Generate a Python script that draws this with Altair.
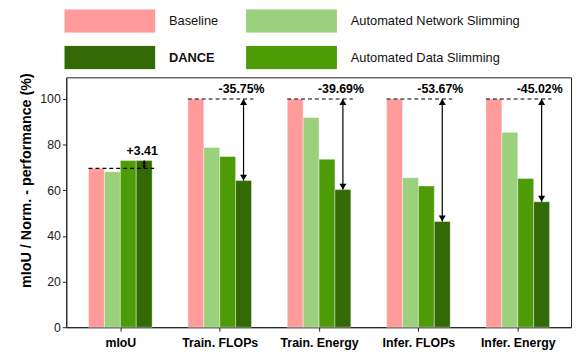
import altair as alt
import pandas as pd

categories = ["mIoU", "Train. FLOPs", "Train. Energy", "Infer. FLOPs", "Infer. Energy"]
methods = ["Baseline", "Automated Network Slimming", "Automated Data Slimming", "DANCE"]
baseline = [69.6, 100, 100, 100, 100]
network_slimming = [68.1, 78.8, 91.9, 65.5, 85.4]
data_slimming = [73.0, 74.8, 73.6, 61.9, 65.2]
dance = [73.01, 64.25, 60.31, 46.33, 54.98]
change_labels = ["+3.41", "-35.75%", "-39.69%", "-53.67%", "-45.02%"]
legend_order = ["Baseline", "Automated Network Slimming", "DANCE", "Automated Data Slimming"]
legend_colors = ["#FF9B9B", "#9BD07C", "#336A05", "#4E9B08"]
y_ticks = [0, 20, 40, 60, 80, 100]

FONT = "Liberation Sans"
BW = 0.16  # bar width in group units

series = [baseline, network_slimming, data_slimming, dance]
rows = []
for g, cat in enumerate(categories):
    for k, m in enumerate(methods):
        x0 = g + (k - 2) * BW
        rows.append({"cat": cat, "method": m, "x0": x0, "x1": x0 + BW, "value": series[k][g]})
bars_df = pd.DataFrame(rows)

ann = []
for g, cat in enumerate(categories):
    b, d = baseline[g], dance[g]
    ann.append({
        "cat": cat, "base": b, "lo": min(b, d), "hi": max(b, d),
        "xd0": g - 0.32, "xd1": g + 0.34, "xa": g + 0.24, "xt": g + 0.22,
        "label": change_labels[g], "head": 14 if g == 0 else 50,
    })
ann_df = pd.DataFrame(ann)

xscale = alt.Scale(domain=[-0.544, 4.536], nice=False, zero=False)
yscale = alt.Scale(domain=[0, 109.5], nice=False)

label_expr = "[" + ",".join("'" + c + "'" for c in categories) + "][round(datum.value)]"

bars = alt.Chart(bars_df).mark_rect(stroke="white", strokeWidth=0.4).encode(
    x=alt.X("x0:Q", scale=xscale, axis=alt.Axis(
        values=list(range(len(categories))), labelExpr=label_expr, title=None,
        grid=False, labelFontWeight="bold", labelFontSize=12.5, labelColor="black",
        tickSize=4, labelPadding=6, domainColor="#222", tickColor="#222")),
    x2="x1:Q",
    y=alt.Y("value:Q", scale=yscale, axis=alt.Axis(
        values=y_ticks, grid=False, title="mIoU / Norm. - performance (%)",
        titleFontWeight="bold", titleFontSize=14.5, titleColor="black", titleY=104,
        titlePadding=6, labelFontSize=12.5, labelColor="#222", tickSize=4,
        domainColor="#222", tickColor="#222")),
    y2=alt.datum(0),
    color=alt.Color("method:N", scale=alt.Scale(domain=legend_order, range=legend_colors),
        legend=alt.Legend(
            orient="none", legendX=-2, legendY=-69, columns=2, direction="horizontal",
            title=None,
            symbolType="M-1,-0.26H1V0.26H-1Z", symbolSize=8464, clipHeight=24,
            symbolStrokeWidth=0, symbolOpacity=1, labelOffset=14,
            columnPadding=28, rowPadding=13, labelFontSize=13, labelFont=FONT,
            labelColor="#111", labelLimit=400,
            labelFontWeight=alt.ExprRef("datum.label == 'DANCE' ? 'bold' : 'normal'"))),
)

dash = alt.Chart(ann_df).mark_rule(color="black", strokeDash=[4, 3], strokeWidth=1.2).encode(
    x="xd0:Q", x2="xd1:Q", y="base:Q")

shaft = alt.Chart(ann_df).mark_rule(color="black", strokeWidth=1.2).encode(
    x="xa:Q", y="lo:Q", y2="hi:Q")

head_up = alt.Chart(ann_df).mark_point(shape="M0,0L-1,1.7L1,1.7Z", filled=True, color="black",
                                       opacity=1, strokeWidth=0).encode(
    x="xa:Q", y="hi:Q", size=alt.Size("head:Q", scale=None))

head_down = alt.Chart(ann_df).mark_point(shape="M0,0L-1,-1.7L1,-1.7Z", filled=True, color="black",
                                         opacity=1, strokeWidth=0).encode(
    x="xa:Q", y="lo:Q", size=alt.Size("head:Q", scale=None))

text = alt.Chart(ann_df).mark_text(fontWeight="bold", fontSize=12.5, baseline="bottom", dy=-3,
                                   color="black", font=FONT).encode(
    x="xt:Q", y="hi:Q", text="label:N")

chart = alt.layer(bars, dash, shaft, head_up, head_down, text).properties(
    width=511, height=253,
    autosize=alt.AutoSizeParams(type="none"),
    padding={"left": 59, "top": 68, "right": 3, "bottom": 30},
).configure(font=FONT).configure_view(stroke="#222", strokeWidth=1)

chart.save("out.html", embed_options={"renderer": "svg", "actions": False})
